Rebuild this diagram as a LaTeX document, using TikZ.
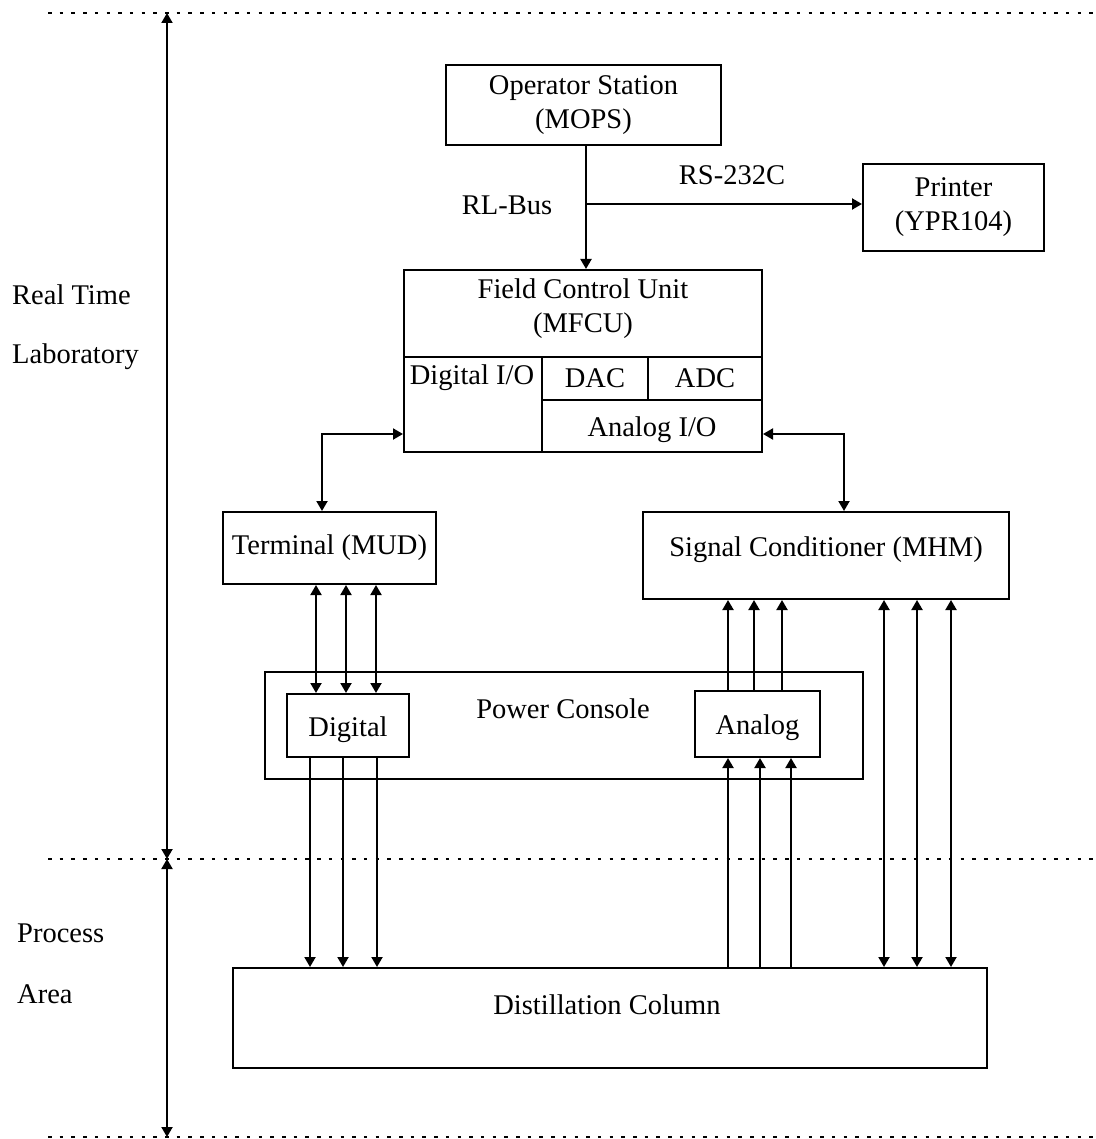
\documentclass[tikz,border=0pt]{standalone}
\usepackage{fontspec}
\setmainfont{Liberation Serif}
\usetikzlibrary{arrows.meta}
\begin{document}
\begin{tikzpicture}[x=1pt,y=-1pt,
  box/.style={draw,line width=2pt,inner sep=0pt,rectangle,font=\fontsize{28.5}{34}\selectfont,align=center},
  lbl/.style={inner sep=0pt,font=\fontsize{28.5}{34}\selectfont,align=center},
  conn/.style={line width=2pt},
  onehead/.style={-{Triangle[length=10pt,width=11pt]}},
  twoheads/.style={{Triangle[length=10pt,width=11pt]}-{Triangle[length=10pt,width=11pt]}},
  dotline/.style={line width=2.4pt,dash pattern=on 3.5pt off 8.2pt}]
\useasboundingbox (0,0) rectangle (1095,1139);

% dotted separators
\coordinate (t0) at (48,13);   \coordinate (t1) at (1095,13);
\coordinate (m0) at (48,859);  \coordinate (m1) at (1095,859);
\coordinate (b0) at (48,1137); \coordinate (b1) at (1095,1137);
\draw[dotline] (t0) -- (t1);
\draw[dotline] (m0) -- (m1);
\draw[dotline] (b0) -- (b1);

% side arrows
\coordinate (vt) at (167,13);
\coordinate (vm) at (167,859);
\coordinate (vb) at (167,1137);
\draw[conn,twoheads] (vm) -- (vt);
\draw[conn,twoheads] (vm) -- (vb);

% side labels
\node[lbl,anchor=west] (rt) at (12,295) {Real Time};
\node[lbl,anchor=west] (lab) at (12,357) {Laboratory};
\node[lbl,anchor=west] (pr) at (17,933) {Process};
\node[lbl,anchor=west] (ar) at (17,994) {Area};

% boxes
\node[box,minimum width=275pt,minimum height=80pt] (ops) at (583.5,105) {Operator Station\\(MOPS)};
\node[box,minimum width=181pt,minimum height=87pt] (prn) at (953.5,207.5) {Printer\\(YPR104)};
\node[box,minimum width=358pt,minimum height=182pt] (fcu) at (583,361) {};
\node[box,minimum width=213pt,minimum height=72pt] (term) at (329.5,548) {Terminal (MUD)};
\node[box,minimum width=366pt,minimum height=87pt] (sc) at (826,555.5) {};
\node[box,minimum width=598pt,minimum height=107pt] (pc) at (564,725.5) {};
\node[box,minimum width=122pt,minimum height=63pt] (dig) at (348,725.5) {};
\node[box,minimum width=125pt,minimum height=66pt] (ana) at (757.5,724) {};
\node[box,minimum width=754pt,minimum height=100pt] (dc) at (610,1018) {};

% texts inside boxes
\node[lbl] (fcut) at (583,309) {Field Control Unit\\(MFCU)};
\node[lbl] (digio) at (472,378) {Digital I/O};
\node[lbl] (dac) at (595,378) {DAC};
\node[lbl] (adc) at (705,378) {ADC};
\node[lbl] (anio) at (652,430) {Analog I/O};
\node[lbl] (sct) at (826,550) {Signal Conditioner (MHM)};
\node[lbl] (pct) at (563,709) {Power Console};
\node[lbl] (digt) at (348,730) {Digital};
\node[lbl] (anat) at (757.5,728) {Analog};
\node[lbl] (dct) at (607,1005) {Distillation Column};

% FCU internal partitions
\coordinate (p1) at (404,357);
\coordinate (p2) at (762,357);
\coordinate (p3) at (542,357);
\coordinate (p4) at (542,452);
\coordinate (p5) at (648,357);
\coordinate (p6) at (648,400);
\coordinate (p7) at (542,400);
\coordinate (p8) at (763,400);
\draw[conn] (p1) -- (p2);
\draw[conn] (p3) -- (p4);
\draw[conn] (p5) -- (p6);
\draw[conn] (p7) -- (p8);

% bus
\coordinate (j) at (586,204);
\draw[conn,onehead] (j |- ops.south) -- (j |- fcu.north);
\draw[conn,onehead] (j) -- (prn.west |- j);
\node[lbl] (rl) at (507,205) {RL-Bus};
\node[lbl] (rs) at (732,175) {RS-232C};

% FCU <-> terminal and signal conditioner
\coordinate (ftl) at (322,434);
\coordinate (ftr) at (844,434);
\draw[conn,twoheads] (fcu.west |- ftl) -- (ftl) -- (ftl |- term.north);
\draw[conn,twoheads] (fcu.east |- ftr) -- (ftr) -- (ftr |- sc.north);

% terminal <-> digital
\foreach \x in {316,346,376}
  \draw[conn,twoheads] (\x,0 |- term.south) -- (\x,0 |- dig.north);
% digital -> distillation
\foreach \x in {310,343,377}
  \draw[conn,onehead] (\x,0 |- dig.south) -- (\x,0 |- dc.north);
% analog -> signal conditioner
\foreach \x in {728,754,782}
  \draw[conn,onehead] (\x,0 |- ana.north) -- (\x,0 |- sc.south);
% distillation -> analog
\foreach \x in {728,760,791}
  \draw[conn,onehead] (\x,0 |- dc.north) -- (\x,0 |- ana.south);
% signal conditioner <-> distillation
\foreach \x in {884,917,951}
  \draw[conn,twoheads] (\x,0 |- sc.south) -- (\x,0 |- dc.north);
\end{tikzpicture}
\end{document}
